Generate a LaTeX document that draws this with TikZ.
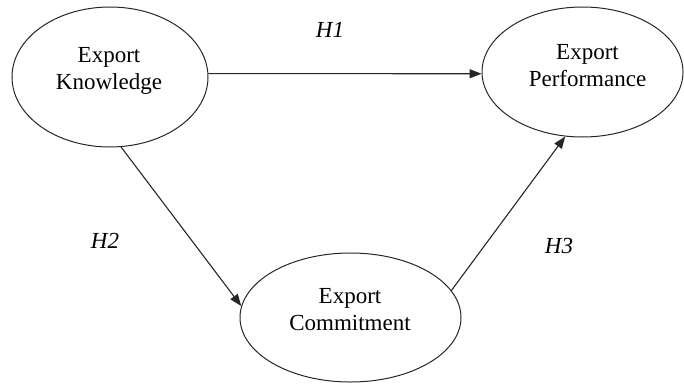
\documentclass[tikz,border=0pt]{standalone}
\usepackage{fontspec}
\setmainfont{Liberation Serif}
\usetikzlibrary{shapes.geometric,arrows.meta}
\begin{document}
\begin{tikzpicture}[x=1pt,y=-1pt,
  construct/.style={draw=black!85, line width=1pt, ellipse, inner sep=0pt},
  lbl/.style={inner sep=0pt, align=center, font=\fontsize{23}{27}\selectfont},
  hyp/.style={inner sep=0pt, anchor=base, font=\fontsize{23}{27}\selectfont\itshape},
  path/.style={line width=1.1pt, draw=black!85, -{Triangle[length=12pt,width=9pt]}}]
\useasboundingbox (0,0) rectangle (684,383);
\node[construct, minimum width=196pt, minimum height=140pt] (K) at (110,77) {};
\node[construct, minimum width=201pt, minimum height=130pt] (P) at (582.5,72) {};
\node[construct, minimum width=221pt, minimum height=129pt] (C) at (350.5,317.5) {};
\node[lbl] (Kt) at (109,71.4) {Export\\Knowledge};
\node[lbl] (Pt) at (587.5,65.5) {Export\\Performance};
\node[lbl] (Ct) at (350,309.5) {Export\\Commitment};
\draw[path] (K.2.3) -- (P.181);
\draw[path] (K.-81) -- (C.174);
\draw[path] (C.15) -- (P.255);
\node[hyp] (H1) at (330,37) {H1};
\node[hyp] (H2) at (105,248) {H2};
\node[hyp] (H3) at (559,253) {H3};
\end{tikzpicture}
\end{document}
